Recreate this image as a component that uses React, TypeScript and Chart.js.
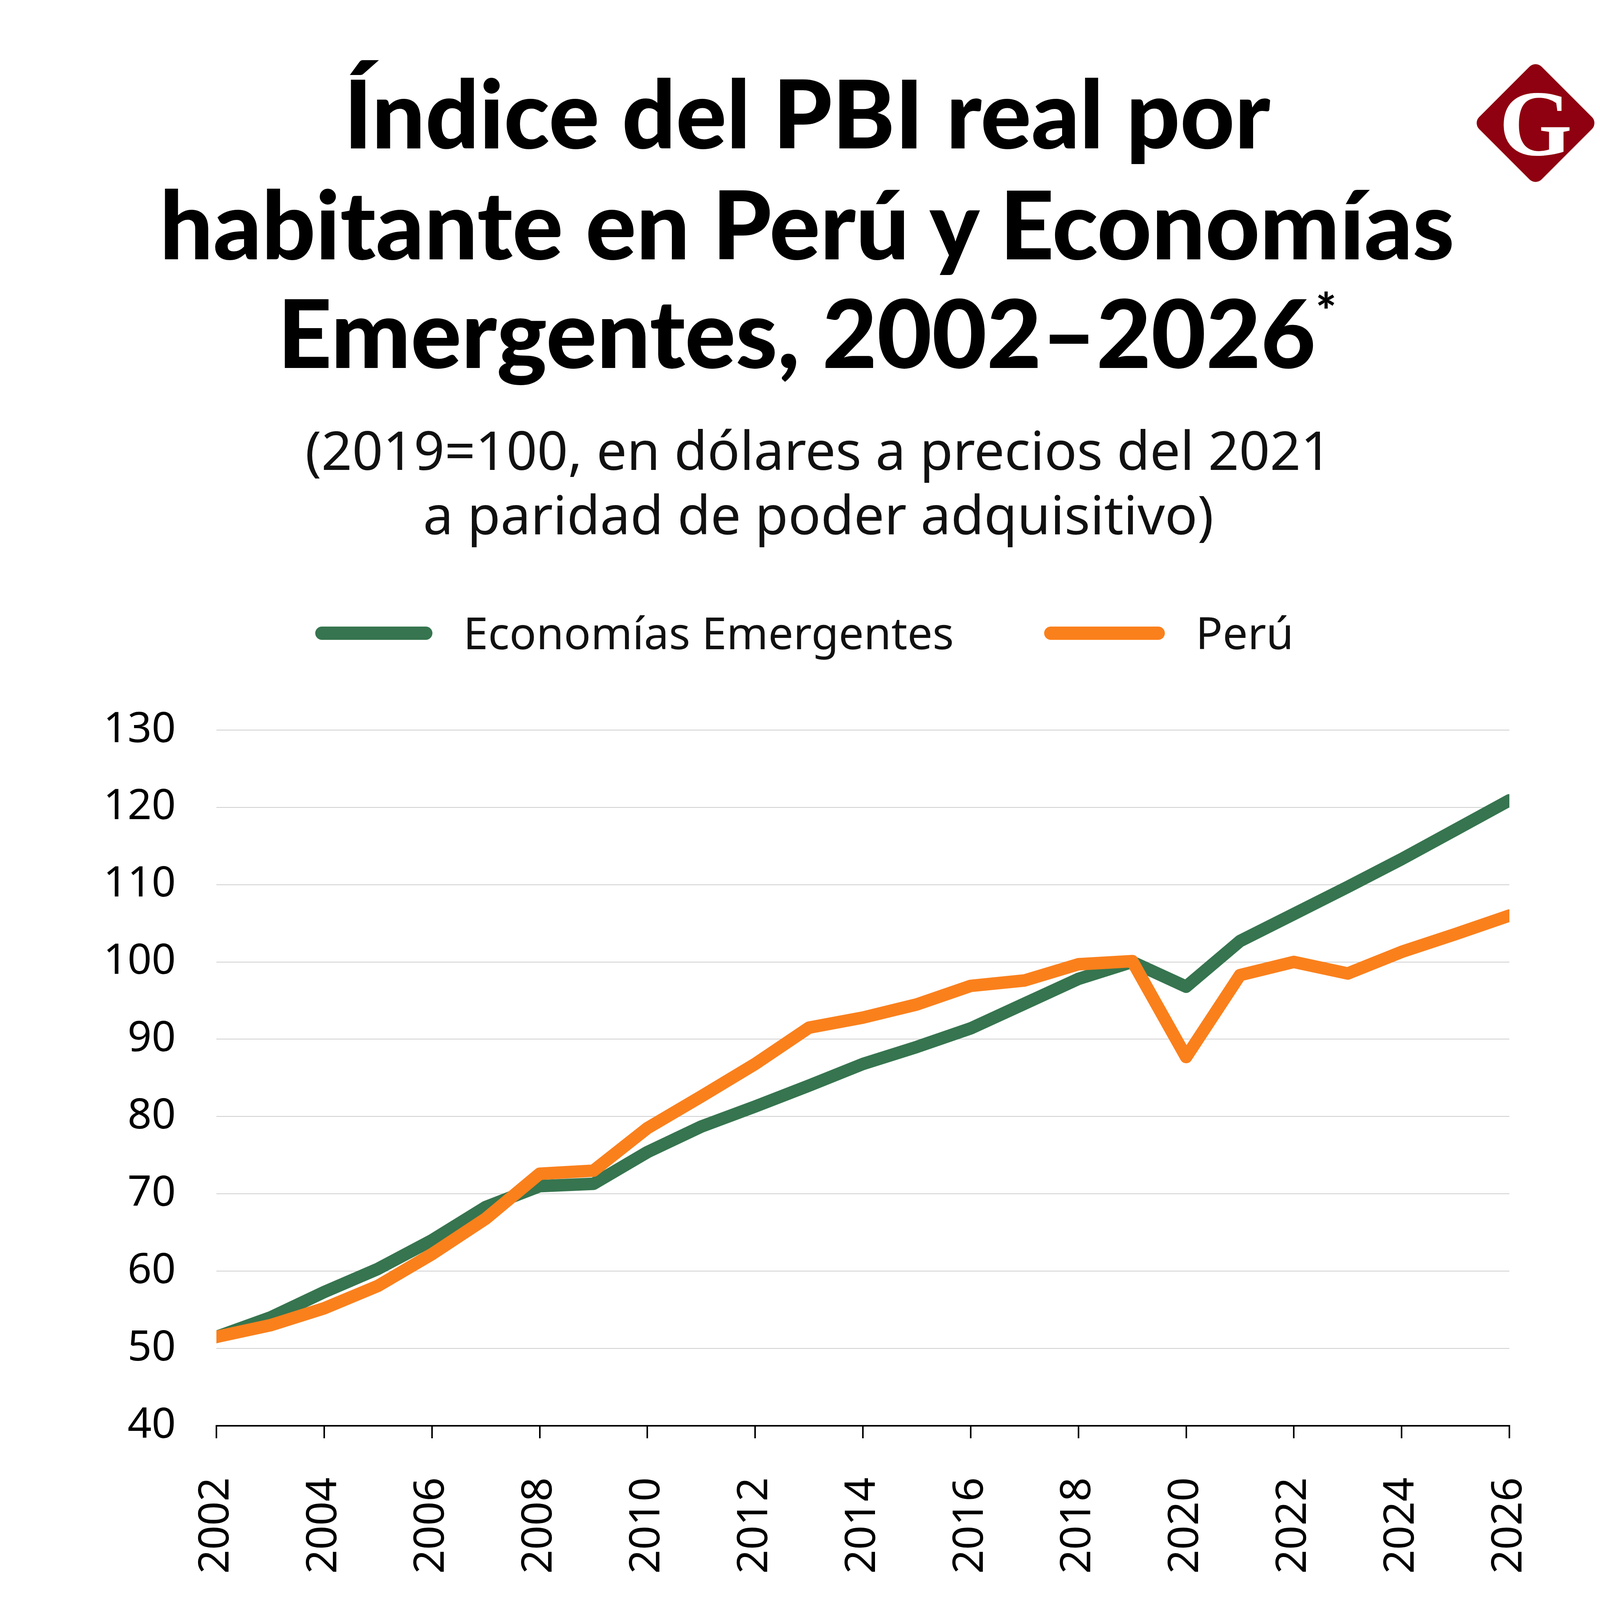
import React, { useEffect, useRef } from "react";
import { Chart, registerables } from "chart.js";

Chart.register(...registerables);

// ---- data ----
const years = [
  2002, 2003, 2004, 2005, 2006, 2007, 2008, 2009, 2010, 2011, 2012, 2013,
  2014, 2015, 2016, 2017, 2018, 2019, 2020, 2021, 2022, 2023, 2024, 2025, 2026,
];
const emergentes = [
  51.5, 54.0, 57.3, 60.3, 64.0, 68.3, 71.0, 71.3, 75.4, 78.7, 81.3, 84.0,
  86.8, 89.0, 91.4, 94.6, 97.8, 100.0, 96.8, 102.7, 106.2, 109.7, 113.3, 117.1, 120.9,
];
const peru = [
  51.5, 53.0, 55.2, 58.1, 62.2, 66.8, 72.6, 73.0, 78.5, 82.6, 86.8, 91.5,
  92.8, 94.5, 96.9, 97.6, 99.7, 100.1, 87.7, 98.3, 100.0, 98.5, 101.3, 103.6, 106.0,
];
const seriesNames = ["Economías Emergentes", "Perú"];
const yMin = 40;
const yMax = 130;
const yStep = 10;
const xMin = 2002;
const xMax = 2026;
const xStep = 2;

const titleLines = [
  "Índice del PBI real por",
  "habitante en Perú y Economías",
  "Emergentes, 2002–2026",
];
const subtitleLines = [
  "(2019=100, en dólares a precios del 2021",
  "a paridad de poder adquisitivo)",
];
const noteLines = [
  "*/ Nota: las cifras del 2026 corresponden a proyecciones del",
  "BCRP para el caso del Perú y del FMI para el caso de las",
  "Economías Emergentes.",
];
const sourceText = "Fuente: FMI, BCRP.";

const GREEN = "#36754F";
const ORANGE = "#FA801C";
const W = 4150;
const H = 5519;
const CANVAS_TOP = 1700;
const CANVAS_H = 2500;
const BODY_FONT = "'Noto Sans', 'DejaVu Sans', sans-serif";

function LineChart() {
  const ref = useRef<HTMLCanvasElement | null>(null);
  useEffect(() => {
    if (!ref.current) return;
    const chart = new Chart(ref.current, {
      type: "line",
      data: {
        datasets: [
          {
            label: seriesNames[1],
            data: years.map((x, i) => ({ x, y: peru[i] })),
            borderColor: ORANGE,
            backgroundColor: ORANGE,
            borderWidth: 32,
            borderCapStyle: "round",
            borderJoinStyle: "round",
            pointRadius: 0,
            tension: 0,
          },
          {
            label: seriesNames[0],
            data: years.map((x, i) => ({ x, y: emergentes[i] })),
            borderColor: GREEN,
            backgroundColor: GREEN,
            borderWidth: 32,
            borderCapStyle: "round",
            borderJoinStyle: "round",
            pointRadius: 0,
            tension: 0,
          },
        ],
      },
      options: {
        animation: false,
        responsive: false,
        maintainAspectRatio: false,
        devicePixelRatio: 1,
        layout: { padding: { top: 151, right: 286, left: 0, bottom: 0 } },
        plugins: {
          legend: { display: false },
          tooltip: { enabled: false },
        },
        scales: {
          x: {
            type: "linear",
            min: xMin,
            max: xMax,
            afterFit: (s: any) => {
              s.height = CANVAS_H - 1950;
            },
            ticks: {
              stepSize: xStep,
              minRotation: 90,
              maxRotation: 90,
              autoSkip: false,
              padding: 100,
              color: "#000",
              font: { family: BODY_FONT, size: 108 },
              callback: (v: any) => String(v),
            },
            grid: {
              drawOnChartArea: false,
              drawTicks: true,
              tickLength: 32,
              color: "#000",
              lineWidth: 4,
            },
            border: { display: true, color: "#000", width: 4 },
          },
          y: {
            min: yMin,
            max: yMax,
            afterFit: (s: any) => {
              s.width = 554;
            },
            ticks: {
              stepSize: yStep,
              padding: 104,
              color: "#000",
              font: { family: BODY_FONT, size: 108 },
              callback: (v: any) => String(v),
            },
            grid: {
              drawTicks: false,
              color: "#cfcfcf",
              lineWidth: 2,
            },
            border: { display: false },
          },
        },
      },
    });
    return () => chart.destroy();
  }, []);
  return (
    <canvas
      ref={ref}
      width={W}
      height={CANVAS_H}
      style={{ position: "absolute", left: 0, top: CANVAS_TOP, width: W, height: CANVAS_H }}
    />
  );
}

export default function App() {
  const titleBase = [380, 664, 942];
  const subBase = [1203, 1368];
  const noteBase = [4488, 4638, 4788];
  return (
    <div
      style={{
        position: "absolute",
        left: 0,
        top: 0,
        width: W,
        height: H,
        background: "#fff",
        overflow: "hidden",
      }}
    >
      <svg
        width={W}
        height={H}
        style={{ position: "absolute", left: 0, top: 0 }}
        xmlns="http://www.w3.org/2000/svg"
      >
        {/* Title */}
        {titleLines.map((t, i) => (
          <text
            key={"t" + i}
            x={2066}
            y={titleBase[i]}
            textAnchor="middle"
            fontFamily="Lato, 'Noto Sans', sans-serif"
            fontWeight={900}
            fontSize={242}
            fill="#000"
          >
            {t}
            {i === 2 ? (
              <tspan fontSize={125} dy={-100}>
                *
              </tspan>
            ) : null}
          </text>
        ))}
        {/* Subtitle */}
        {subtitleLines.map((t, i) => (
          <text
            key={"s" + i}
            x={2095}
            y={subBase[i]}
            textAnchor="middle"
            fontFamily={BODY_FONT}
            fontSize={138}
            fill="#111"
          >
            {t}
          </text>
        ))}
        {/* Logo */}
        <rect
          x={3931 - 113}
          y={315 - 113}
          width={226}
          height={226}
          rx={22}
          fill="#8f0010"
          transform="rotate(45 3931 315)"
        />
        <text
          x={3931}
          y={397}
          textAnchor="middle"
          fontFamily="'Liberation Serif', 'DejaVu Serif', serif"
          fontWeight={700}
          fontSize={240}
          fill="#fff"
        >
          G
        </text>
        {/* Legend */}
        <rect x={807} y={1604} width={300} height={34} rx={17} fill={GREEN} />
        <text x={1186} y={1662} fontFamily={BODY_FONT} fontSize={114} fill="#111">
          {seriesNames[0]}
        </text>
        <rect x={2673} y={1604} width={309} height={34} rx={17} fill={ORANGE} />
        <text x={3061} y={1662} fontFamily={BODY_FONT} fontSize={114} fill="#111">
          {seriesNames[1]}
        </text>
        {/* Note */}
        {noteLines.map((t, i) => (
          <text
            key={"n" + i}
            x={332}
            y={noteBase[i]}
            fontFamily={BODY_FONT}
            fontSize={112}
            fill="#111"
          >
            {t}
          </text>
        ))}
        <line x1={0} y1={5068} x2={W} y2={5068} stroke="#9a9a9a" strokeWidth={4} />
        <text x={332} y={5337} fontFamily={BODY_FONT} fontSize={112} fill="#111">
          {sourceText}
        </text>
      </svg>
      <LineChart />
    </div>
  );
}
